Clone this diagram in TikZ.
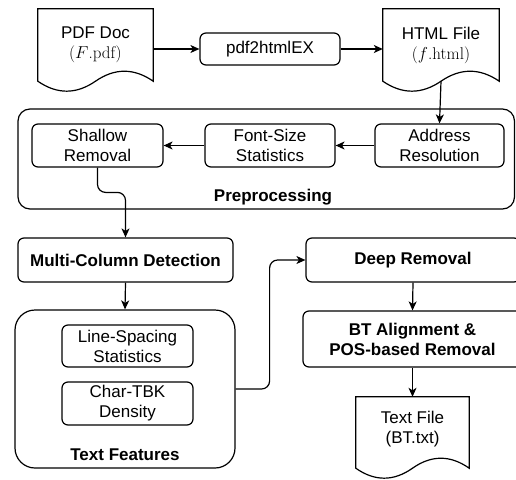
\documentclass[tikz,border=0pt]{standalone}
\usepackage{fontspec}
\newfontfamily\arialf{Liberation Sans}
\usetikzlibrary{arrows.meta,calc}
\tikzset{
  lbl/.style={font=\arialf\fontsize{17}{20}\selectfont, align=center, inner sep=0pt},
  box/.style={lbl, draw, line width=1.2pt, rounded corners=6pt, fill=white},
  boldbox/.style={box, font=\arialf\bfseries\fontsize{17}{20}\selectfont},
  cont/.style={draw, line width=1.2pt, fill=white, inner sep=0pt},
  docnode/.style={lbl},
  docline/.style={draw, line width=1.2pt, fill=white},
  arr/.style={line width=1.2pt, -{Stealth[length=9pt,width=8pt,inset=2.5pt]}},
}
\newcommand\docpath[1]{%
  \path[docline] let \p1=(#1.south west), \p2=(#1.north east) in
    (\p1) -- (\x1,\y2) -- (\p2) -- (\x2,\y1)
    .. controls ({\x1+5*(\x2-\x1)/6},{\y1+13.3pt}) and ({\x1+2*(\x2-\x1)/3},{\y1+13.3pt}) ..
    ({(\x1+\x2)/2},\y1)
    .. controls ({\x1+(\x2-\x1)/3},{\y1-13.3pt}) and ({\x1+(\x2-\x1)/6},{\y1-13.3pt}) ..
    cycle;}
\begin{document}
\begin{tikzpicture}[x=1pt,y=-1pt]
\useasboundingbox (0,0) rectangle (516,479);
\clip (0,0) rectangle (516,479);
\fill[white] (0,0) rectangle (516,479);

% top row
\node[docnode, minimum width=115pt, minimum height=72pt] (pdf) at (95.5,45) {};
\docpath{pdf}
\node[lbl] (pdft) at (pdf.center) {PDF Doc\\{\rmfamily($F$.pdf)}};
\node[box, minimum width=140pt, minimum height=32pt] (pdf2) at (270,49) {pdf2htmlEX};
\node[docnode, minimum width=116pt, minimum height=72pt] (html) at (441,45) {};
\docpath{html}
\node[lbl] (htmlt) at (html.center) {HTML File\\{\rmfamily($f$.html)}};

% preprocessing
\node[cont, rounded corners=12pt, minimum width=496.5pt, minimum height=100pt] (pre) at (266.25,159) {};
\node[box, minimum width=129pt, minimum height=43pt] (addr) at (439.5,145.5) {Address\\Resolution};
\node[box, minimum width=130pt, minimum height=43pt] (font) at (270,145.5) {Font-Size\\Statistics};
\node[box, minimum width=131pt, minimum height=43pt] (shallow) at (97.5,145.5) {Shallow\\Removal};
\node[lbl, font=\arialf\bfseries\fontsize{17}{20}\selectfont] (prel) at (273,197) {Preprocessing};

% left column
\node[boldbox, minimum width=215pt, minimum height=44pt] (multi) at (125.5,260) {Multi-Column Detection};
\node[cont, rounded corners=20pt, minimum width=220pt, minimum height=158pt] (tf) at (125,389) {};
\node[box, minimum width=131pt, minimum height=42pt] (ls) at (127.5,346) {Line-Spacing\\Statistics};
\node[box, minimum width=131pt, minimum height=43pt] (ct) at (127.5,403.5) {Char-TBK\\Density};
\node[lbl, font=\arialf\bfseries\fontsize{17}{20}\selectfont] (tfl) at (125,455) {Text Features};

% right column
\node[boldbox, minimum width=214pt, minimum height=44pt] (deep) at (413,260) {Deep Removal};
\node[boldbox, minimum width=219pt, minimum height=56pt] (bt) at (412.5,339) {BT Alignment \&\\POS-based Removal};
\node[docnode, minimum width=113pt, minimum height=71pt] (txt) at (412.5,432.5) {};
\docpath{txt}
\node[lbl] (txtt) at ([yshift=3pt]txt.center) {Text File\\(BT.txt)};

% connectors
\draw[arr] (pdf2.west -| pdf.east) -- (pdf2.west);
\draw[arr] (pdf2.east) -- (pdf2.east -| html.west);
\draw[arr] (html.south) -- (addr.north);
\draw[arr] (addr.west) -- (font.east);
\draw[arr] (font.west) -- (shallow.east);
\draw[arr, rounded corners=8pt] (shallow.south) |- ($(multi.north)+(0,-45)$) -- (multi.north);
\draw[arr] (multi.south) -- (tf.north);
\draw[arr, rounded corners=8pt] (tf.east) -- ++(34,0) |- (deep.west);
\draw[arr] (deep.south) -- (bt.north);
\draw[arr] (bt.south) -- (txt.north);
\end{tikzpicture}
\end{document}
